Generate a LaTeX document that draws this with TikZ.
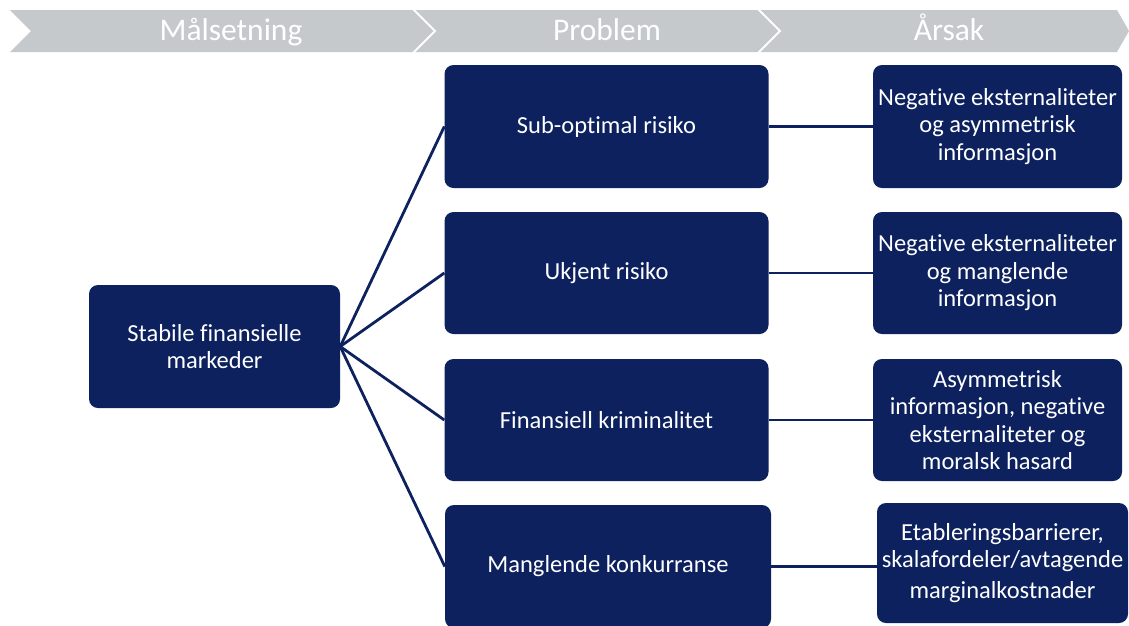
\documentclass[tikz,border=0pt]{standalone}
\usepackage{fontspec}
\setmainfont{Carlito}[Ligatures=NoCommon]
\definecolor{navy}{RGB}{12,33,94}
\definecolor{bandgrey}{RGB}{197,201,204}
\tikzset{
  box/.style={fill=navy, rounded corners=9pt, text=white, align=center, inner sep=0pt,
    font=\fontsize{24.5}{27.5}\selectfont},
  link/.style={draw=navy, line width=2.8pt},
  headtext/.style={text=white, font=\fontsize{31.5}{34}\selectfont, inner sep=0pt, anchor=base},
}
\begin{document}
\begin{tikzpicture}[x=1pt,y=-1pt]
\useasboundingbox (0,0) rectangle (1129,625);
% header band
\fill[bandgrey] (10,10) -- (1117,10) -- (1129,31) -- (1117,52) -- (10,52) -- (31,31) -- cycle;
\draw[white, line width=2pt] (413,9) -- (435,31) -- (413,53);
\draw[white, line width=2pt] (758,9) -- (780,31) -- (758,53);
\node[headtext] (h1) at (231,40) {Målsetning};
\node[headtext] (h2) at (607,40) {Problem};
\node[headtext] (h3) at (949,40) {Årsak};
% boxes
\node[box, minimum width=251pt, minimum height=123pt] (st) at (214.5,346.5) {Stabile finansielle\\markeder};
\node[box, minimum width=324pt, minimum height=123pt] (p1) at (606.5,126.5) {Sub-optimal risiko};
\node[box, minimum width=324pt, minimum height=122pt] (p2) at (606.5,273) {Ukjent risiko};
\node[box, minimum width=324pt, minimum height=122pt] (p3) at (606.5,420) {Finansiell kriminalitet};
\node[box, minimum width=326pt, minimum height=123pt] (p4) at (608,566.5) {Manglende konkurranse};
\node[box, minimum width=249pt, minimum height=123pt] (c1) at (997.5,126.5) {Negative eksternaliteter\\og asymmetrisk\\informasjon};
\node[box, minimum width=249pt, minimum height=122pt] (c2) at (997.5,273) {Negative eksternaliteter\\og manglende\\informasjon};
\node[box, minimum width=249pt, minimum height=122pt] (c3) at (997.5,420) {Asymmetrisk\\informasjon, negative\\eksternaliteter og\\moralsk hasard};
\node[box, minimum width=251pt, minimum height=120pt] (c4) at (1002.5,563) {Etableringsbarrierer,\\skalafordeler/avtagende\\[3pt]marginalkostnader};
% connectors
\foreach \p in {p1,p2,p3,p4} \draw[link] (st.east) -- (\p.west);
\draw[link] (p1.east) -- (c1.west);
\draw[link] (p2.east) -- (c2.west);
\draw[link] (p3.east) -- (c3.west);
\draw[link] (p4.east) -- (p4.east -| c4.west);
\end{tikzpicture}
\end{document}
